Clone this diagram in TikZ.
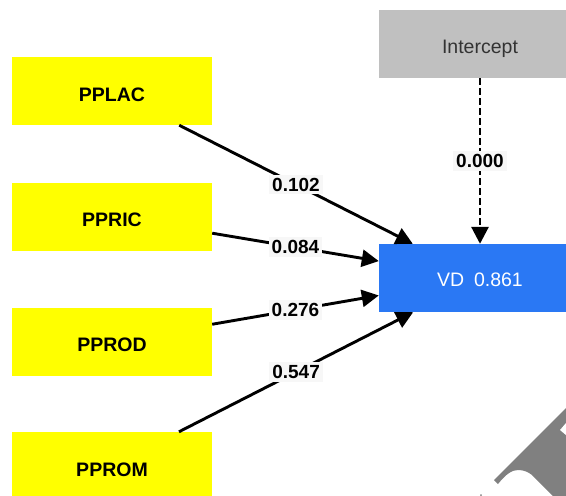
\documentclass[tikz,border=0pt]{standalone}
\usepackage{fontspec}
\setmainfont{Liberation Sans}
\usetikzlibrary{arrows.meta}
\definecolor{boxyellow}{HTML}{FFFF00}
\definecolor{boxgray}{HTML}{C0C0C0}
\definecolor{boxblue}{HTML}{2A78F4}
\definecolor{labelbg}{HTML}{F7F7F7}
\definecolor{markgray}{HTML}{808080}
\definecolor{textgray}{HTML}{333333}
\tikzset{
  ybox/.style={fill=boxyellow, minimum width=200pt, minimum height=68pt, inner sep=0pt, text height=20pt, text depth=0pt, font=\bfseries\fontsize{19.5}{22}\selectfont},
  gbox/.style={fill=boxgray, minimum width=202pt, minimum height=68pt, inner sep=0pt, text height=18pt, text depth=0pt, text=textgray, font=\fontsize{19.5}{22}\selectfont},
  bbox/.style={fill=boxblue, minimum width=202pt, minimum height=68pt, inner sep=0pt, text height=16pt, text depth=0pt, text=white, font=\fontsize{19.5}{22}\selectfont},
  conn/.style={line width=2.9pt, -{Triangle[length=17pt,width=17pt]}},
  wlabel/.style={fill=labelbg, inner sep=3pt, font=\bfseries\fontsize{19}{21}\selectfont},
}
\begin{document}
\begin{tikzpicture}[x=1pt,y=-1pt]
\useasboundingbox (0,0) rectangle (566,496);
\clip (0,0) rectangle (566,496);
\fill[white] (0,0) rectangle (566,496);
% boxes
\node[ybox] (PPLAC) at (112,91) {PPLAC};
\node[ybox] (PPRIC) at (112,216.5) {PPRIC};
\node[ybox] (PPROD) at (112,341.5) {PPROD};
\node[ybox] (PPROM) at (112,466) {PPROM};
\node[gbox] (INT) at (480,44) {Intercept};
\node[bbox] (VD) at (480,278) {VD\enspace0.861};
% connectors
\draw[conn] (PPLAC) -- node[wlabel,midway] {0.102} (VD);
\draw[conn] (PPRIC) -- node[wlabel,midway] {0.084} (VD);
\draw[conn] (PPROD) -- node[wlabel,midway] {0.276} (VD);
\draw[conn] (PPROM) -- node[wlabel,midway] {0.547} (VD);
\draw[conn, dash pattern=on 7pt off 3pt] (INT) -- node[wlabel,midway] {0.000} (VD);
% grey mark at lower right
\fill[markgray] (566,408) -- (494,480) -- (498,484) .. controls (506,474) and (512,470) .. (518,470) .. controls (524,470) and (528,472) .. (532,475) -- (553,496) -- (566,496) -- cycle;
\fill[white] (566,423) -- (560,430) -- (566,435) -- cycle;
\fill[markgray] (481,495) circle (1pt);
\end{tikzpicture}
\end{document}
